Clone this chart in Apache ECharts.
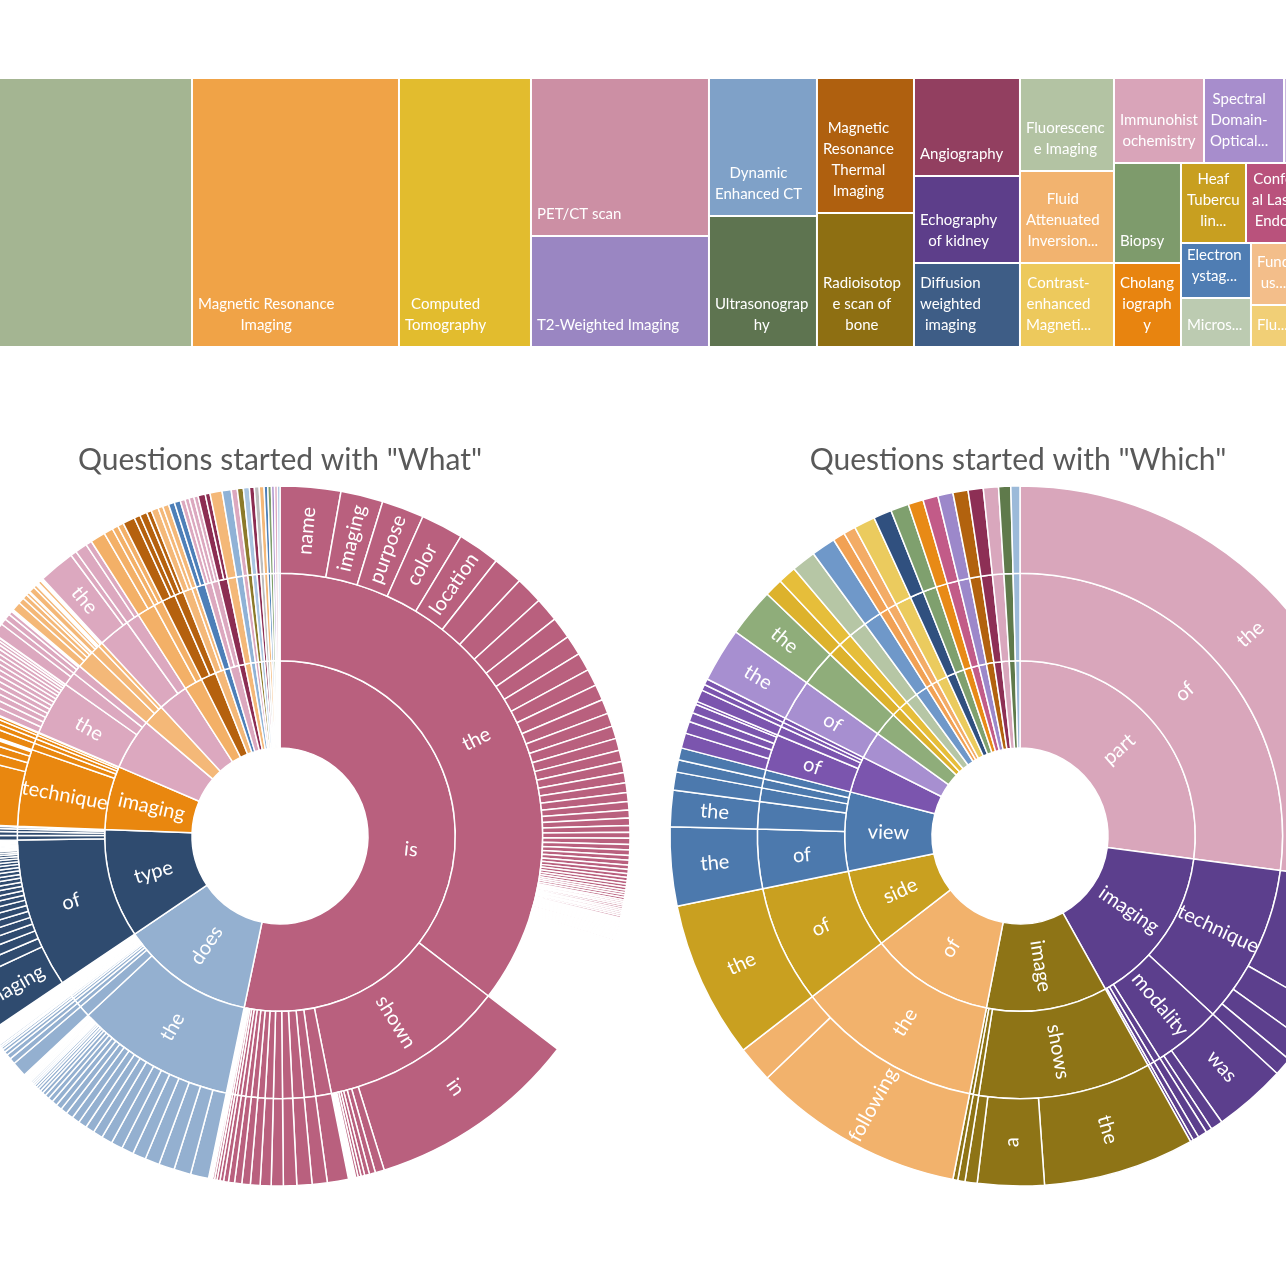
<!DOCTYPE html>
<html><head><meta charset="utf-8">
<script src="https://cdn.jsdelivr.net/npm/echarts@6/dist/echarts.min.js"></script>
<style>html,body{margin:0;padding:0;background:#fff}#c{width:1286px;height:1286px}</style>
</head><body><div id="c"></div>
<script>
// ---------------- Treemap: imaging modalities ----------------
const modalityLabels = [
  "", "Magnetic Resonance\nImaging", "Computed\nTomography", "PET/CT scan", "T2-Weighted Imaging",
  "Dynamic\nEnhanced CT", "Ultrasonograp\nhy", "Magnetic\nResonance\nThermal\nImaging", "Radioisotop\ne scan of\nbone",
  "Angiography", "Echography\nof kidney", "Diffusion\nweighted\nimaging",
  "Fluorescenc\ne Imaging", "Fluid\nAttenuated\nInversion...", "Contrast-\nenhanced\nMagneti...",
  "Immunohist\nochemistry", "Spectral\nDomain-\nOptical...", "",
  "Biopsy", "Cholang\niograph\ny", "Heaf\nTubercu\nlin...", "Confoc\nal Laser\nEndo...",
  "Electron\nystag...", "Micros...", "Fund\nus...", "Flu..."
];
const modalityValues = [6725, 5568, 3551, 2812, 1976, 1490, 1415, 1310, 1300, 1039, 922, 890, 874, 865, 790, 765, 680, 221, 670, 563, 520, 512, 385, 343, 366, 248];
const modalityColors = [
  "#A4B592", "#F0A347", "#E2BC2E", "#CC8FA4", "#9A86C2",
  "#7FA1C8", "#5E7450", "#AF600F", "#8E6F12",
  "#923F60", "#5D3E8A", "#3E5D86",
  "#B3C3A3", "#F2B36F", "#EDC95C",
  "#D9A4B9", "#A78DCC", "#C9B7DE",
  "#7E9B6C", "#E8840F", "#C89F20", "#B9527C",
  "#4F7DB3", "#BCCBB1", "#F3BE8A", "#F1CF76"
];
// column grouping of the treemap (indices into the arrays above)
const modalityGroups = [0, 1, 2, [3, 4], [5, 6], [7, 8], [9, 10, 11], [12, 13, 14],
  [[15, 16, 17], [[18, 19], [[20, 21], [[22, 23], [24, 25]]]]]];

// ---------------- Sunburst: "What" ----------------
const whatTitle = 'Questions started with "What"';
const whatTheTail = [5,4.5,4,3.6,3.3,3,2.8,2.6,2.4,2.2,2.1,2,1.9,1.8,1.7,1.6,1.5,1.4,1.3,1.2,1.1,1,1,0.9,0.9,0.8,0.8,0.7,0.7,0.6,0.6,0.5,0.5,0.5,0.4,0.4,0.4,0.4,
  0.3,0.3,0.3,0.3,0.3,0.3,0.3,0.3,0.3,0.3,0.2,0.2,0.2,0.2,0.2,0.2,0.2,0.2,0.2,0.2,0.2,0.2,0.2,0.2,0.2,0.2,0.2,0.2,0.2,0.2];
const whatIsTail = [3.5,2.5,2.5,2.2,2,1.8,1.6,1.4,1.2,1,0.8,0.6,0.5,0.4,0.3];
const whatDoesTheTail = [3,2.8,2.6,2.4,2.2,2,1.9,1.8,1.6,1.5,1.4,1.3,1.2,1.1,1,0.9,0.8,0.7,0.6,0.5,0.5,0.4,0.4,0.3,0.3,0.3,0.2,0.2,0.2,0.2];
const whatDoesTail = [2.5,1,0.8,0.6,0.5,0.4,0.3,0.3,0.2];
const whatTypeOfTail = [2,1.8,1.6,1.5,1.4,1.3,1.2,1.1,1,1,0.9,0.9,0.8,0.8,0.7,0.7,0.6,0.6,0.5,0.5,0.4,0.4,0.3,0.3,0.3,0.2,0.2];
const whatSmall = [1.5,1,1,1,0.8,0.8,0.8,0.6,0.6,0.5,0.5,0.4];
const whatColors = ["#B9607E","#94B0D0","#2F4B6F","#E9870F",
  "#DCA8BF","#F4B878","#DCA8BF","#F3B067","#B5610E","#F4B878","#4D7FB8","#DCA8BF","#8C2D52","#F4B878",
  "#8FB2D6","#DCA8BF","#8C7A2A","#A9C4E0","#8C2D52","#BDBDBD","#F4B878","#4D7FB8","#7E9E6B","#A68CCB","#DCA8BF","#8FB2D6"];
const whatTree = [
  ["is", 191, [
    ["the", 127, [["name",10],["imaging",7],["purpose",7],["color",7],["location",7]].concat(whatTheTail)],
    ["shown", 41, [["in",35],1.5,1,0.8,0.6,0.5,0.4]]
  ].concat(whatIsTail.map(v => ["", v, [v]]))],
  ["does", 44, [["the", 35, whatDoesTheTail]].concat(whatDoesTail.map(v => ["", v, [v]]))],
  ["type", 36, [["of", 33, [["imaging",9]].concat(whatTypeOfTail)], ["",1,[1]], ["",0.8,[0.8]], ["",0.6,[0.6]], ["",0.4,[0.4]]]],
  ["imaging", 21, [["technique",17,[12,2,1.5,1]], ["",1.5,[1.5]], ["",1,[1]], ["",0.8,[0.8]], ["",0.5,[0.5]]]],
  ["", 17, [["the",12,[1.3,1.2,1.1,1,1,0.9,0.9,0.8,0.8,0.7,0.7,0.6,0.5,0.4]], ["",3,[2,1]], ["",2,[1,0.6]]]],
  ["", 7, [["",4,[1.5,1,0.8,0.5]], ["",2,[1,0.5]], ["",1,[0.5]]]],
  ["", 10, [["",7,[["the",6],1]], ["",3,[2,1]]]],
  ["", 6, [["",4,[2.5,1.5]], ["",2,[1,1]]]],
  ["", 5, [["",3,[2,1]], ["",2,[1.2,0.8]]]],
  ["", 3, [["",2,[1.2,0.8]], ["",1,[1]]]],
  ["", 2, [["",2,[1,1]]]],
  ["", 3, [["",1.5,[0.8,0.7]], ["",1.5,[0.8,0.7]]]],
  ["", 2, [["",2,[1.2,0.8]]]],
  ["", 2, [["",2,[2]]]]
].concat(whatSmall.map(v => ["", v, [["", v, [v]]]]));

// ---------------- Sunburst: "Which" ----------------
const whichTitle = 'Questions started with "Which"';
const whichSmall = [3,3,4,4,2,2,3.5,3,3,2.5,2.5,2.5,2.5,2.5,2.5,2,1.5];
const whichColors = ["#D9A6BB","#5C3F8D","#8E7416","#F2B26C","#C9A020","#4C79AD","#7B55AE","#A78FD0","#8FAD7A",
  "#DDB22C","#E6BE3A","#B6C6A5","#6F98C9","#F1A154","#F3AC66","#EBCB5E","#30507F","#7FA06E","#E88A16","#C25B88",
  "#9C88CA","#B2620E","#8D2F55","#D9A7BD","#5F7A4B","#9CBAD9"];
const whichTree = [
  ["part", 97, [["of", 97, [["the", 97]]]]],
  ["imaging", 53, [["technique",35,[22,6,4,3]], ["modality",15,[["was",12],2,1]], ["",1.5,[1.5]], ["",1,[1]], ["",0.5,[0.5]]]],
  ["image", 40, [["shows",38,[["the",25],["a",11],2]], ["",1.2,[1.2]], ["",0.8,[0.8]]]],
  ["of", 41, [["the",41,[["following",35],6]]]],
  ["side", 26, [["of",26,[["the",26]]]]],
  ["view", 26, [["of",13,[["the",13]]], ["",6,[["the",6]]], ["",3,[3]], ["",2,[2]], ["",2,[2]]]],
  ["", 12, [["of",8,[2.5,2,1.5,1.5,0.5]], ["",2,[2]], ["",1,[1]], ["",1,[1]]]],
  ["", 9, [["of",9,[["the",9]]]]],
  ["", 8, [["",8,[["the",8]]]]]
].concat(whichSmall.map(v => ["", v, [["", v, [v]]]]));

// ---------------- builders ----------------
const FONT = 'Lato, "Open Sans", sans-serif';
const TM_FONT_SIZE = 15;
const measureCtx = document.createElement('canvas').getContext('2d');
measureCtx.font = TM_FONT_SIZE + 'px ' + FONT;
function blockWidth(text) {
  return Math.max.apply(null, text.split('\n').map(t => measureCtx.measureText(t).width));
}
function toTreemap(g) {
  if (typeof g === 'number') {
    const lbl = modalityLabels[g];
    const w = lbl ? blockWidth(lbl) : 0;
    return { name: lbl, value: modalityValues[g],
      itemStyle: { color: modalityColors[g], borderWidth: 1, borderColor: '#fff' },
      // text block sits at bottom-left, its lines centred within the block
      label: { position: 'insideBottomLeft', align: 'center', offset: [w / 2, 0] } };
  }
  return { name: '', children: g.map(toTreemap), itemStyle: { borderWidth: 0, gapWidth: 0 } };
}
function toSun(n, color) {
  if (typeof n === 'number') return { name: '', value: n, itemStyle: { color: color } };
  const o = { name: n[0], value: n[1], itemStyle: { color: color } };
  if (n[2]) o.children = n[2].map(c => toSun(c, color));
  return o;
}
function sunData(tree, colors) {
  return tree.map((n, i) => toSun(n, colors[i]));
}

const sunCommon = {
  type: 'sunburst', radius: [88, 350], sort: null, nodeClick: false,
  emphasis: { disabled: true },
  itemStyle: { borderColor: '#fff', borderWidth: 1.5 },
  label: { color: '#fff', fontSize: 20, fontFamily: FONT, rotate: 'radial' }
};

const chart = echarts.init(document.getElementById('c'), null, { renderer: 'canvas' });
chart.setOption({
  animation: false,
  backgroundColor: '#fff',
  graphic: [
    { type: 'text', x: 280, y: 460, style: { text: whatTitle, fill: '#595959', font: '30px ' + FONT,
      textAlign: 'center', align: 'center', textVerticalAlign: 'middle', verticalAlign: 'middle' } },
    { type: 'text', x: 1018, y: 460, style: { text: whichTitle, fill: '#595959', font: '30px ' + FONT,
      textAlign: 'center', align: 'center', textVerticalAlign: 'middle', verticalAlign: 'middle' } }
  ],
  series: [
    {
      type: 'treemap', left: -58, top: 78, width: 1368, height: 269,
      sort: false, squareRatio: 0.6, roam: false, nodeClick: false,
      breadcrumb: { show: false },
      emphasis: { disabled: true },
      itemStyle: { borderWidth: 0, gapWidth: 0, borderColor: '#fff' },
      upperLabel: { show: false },
      label: { show: true, position: 'insideBottomLeft', distance: 5, color: '#fff', fontSize: TM_FONT_SIZE,
        fontFamily: FONT, lineHeight: 21, overflow: 'none' },
      data: modalityGroups.map(toTreemap)
    },
    Object.assign({}, sunCommon, { center: [280, 836], data: sunData(whatTree, whatColors) }),
    Object.assign({}, sunCommon, { center: [1020, 836], data: sunData(whichTree, whichColors) })
  ]
});
</script>
</body></html>
